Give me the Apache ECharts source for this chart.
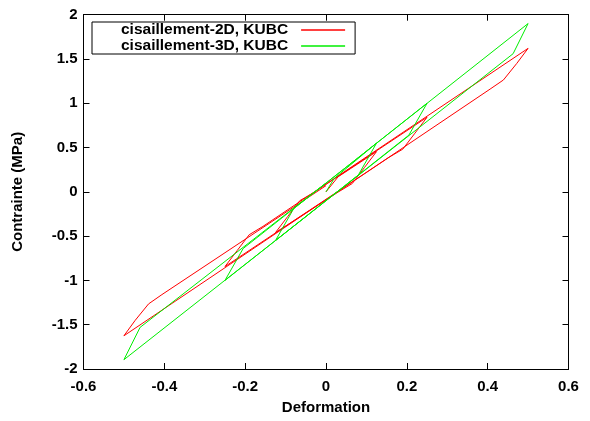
<!DOCTYPE html>
<html>
<head>
<meta charset="utf-8">
<script src="https://cdn.jsdelivr.net/npm/echarts@6/dist/echarts.min.js"></script>
<style>
html,body{margin:0;padding:0;background:#fff;}
#chart{width:590px;height:421px;}
</style>
</head>
<body>
<div id="chart"></div>
<script>
// ---- data ----
var strain2D = [0, 0.03, 0.06, 0.125, 0.095, 0.065, 0.031, -0.125, -0.095, -0.065, -0.031,
  0.25, 0.22, 0.19, 0.156, -0.25, -0.22, -0.19, -0.156,
  0.5, 0.472, 0.439, 0.406, -0.5, -0.472, -0.439, -0.406, 0];
var stress2D = [0, 0.17, 0.26, 0.454, 0.274, 0.094, 0.0, -0.46, -0.28, -0.10, -0.01,
  0.842, 0.662, 0.482, 0.39, -0.844, -0.664, -0.484, -0.39,
  1.62, 1.45, 1.263, 1.16, -1.625, -1.45, -1.265, -1.16, 0.07];
var strain3D = [0, 0.02, 0.125, 0.08, -0.125, -0.08, 0.25, 0.205, -0.25, -0.205,
  0.5, 0.463, -0.5, -0.46, 0];
var stress3D = [0, 0.15, 0.55, 0.19, -0.55, -0.19, 1.0, 0.64, -1.0, -0.64,
  1.9, 1.56, -1.895, -1.53, 0.1];
var seriesNames = ['cisaillement-2D, KUBC', 'cisaillement-3D, KUBC'];
var xTickLabels = ['-0.6', '-0.4', '-0.2', '0', '0.2', '0.4', '0.6'];
var yTickLabels = ['-2', '-1.5', '-1', '-0.5', '0', '0.5', '1', '1.5', '2'];
var xName = 'Deformation';
var yName = 'Contrainte (MPa)';

function zip(a, b) { return a.map(function (v, i) { return [v, b[i]]; }); }
function xLab(v) { return xTickLabels[Math.round((v + 0.6) / 0.2)]; }
function yLab(v) { return yTickLabels[Math.round((v + 2) / 0.5)]; }

var FONT = 'Liberation Sans, Arial, Helvetica, sans-serif';
var lab = { fontFamily: FONT, fontWeight: 'bold', fontSize: 15, color: '#000' };
var RED = '#ff0000', GREEN = '#00ee00';

var chart = echarts.init(document.getElementById('chart'), null, { renderer: 'canvas' });
var axisLine = { show: true, onZero: false, lineStyle: { color: '#000', width: 1 } };
var tick = { show: true, inside: true, length: 6, lineStyle: { color: '#000', width: 1 } };

chart.setOption({
  animation: false,
  backgroundColor: '#fff',
  grid: { left: 83.5, right: 21.5, top: 14.7, bottom: 52, containLabel: false },
  legend: {
    orient: 'vertical', align: 'right',
    left: 92, top: 22,
    padding: [0, 10, 0, 29],
    itemWidth: 44, itemHeight: 1.5, itemGap: 0,
    icon: 'rect',
    borderColor: '#000', borderWidth: 1,
    textStyle: { fontFamily: FONT, fontWeight: 'bold', fontSize: 15.5, lineHeight: 15.3, color: '#000', padding: [0, 8, 0, 0] },
    data: seriesNames
  },
  xAxis: [
    { type: 'value', min: -0.6, max: 0.6, interval: 0.2, position: 'bottom',
      axisLine: axisLine, axisTick: tick, splitLine: { show: false },
      axisLabel: Object.assign({ margin: 10, formatter: xLab }, lab),
      name: xName, nameLocation: 'middle', nameGap: 31, nameTextStyle: lab },
    { type: 'value', min: -0.6, max: 0.6, interval: 0.2, position: 'top',
      axisLine: axisLine, axisTick: tick, splitLine: { show: false },
      axisLabel: { show: false } }
  ],
  yAxis: [
    { type: 'value', min: -2, max: 2, interval: 0.5, position: 'left',
      axisLine: axisLine, axisTick: tick, splitLine: { show: false },
      axisLabel: Object.assign({ margin: 6, formatter: yLab }, lab),
      name: yName, nameLocation: 'middle', nameGap: 58, nameTextStyle: lab },
    { type: 'value', min: -2, max: 2, interval: 0.5, position: 'right',
      axisLine: axisLine, axisTick: tick, splitLine: { show: false },
      axisLabel: { show: false } }
  ],
  series: [
    { name: seriesNames[0], type: 'line', data: zip(strain2D, stress2D),
      symbol: 'none', lineStyle: { color: RED, width: 1 }, itemStyle: { color: RED } },
    { name: seriesNames[1], type: 'line', data: zip(strain3D, stress3D),
      symbol: 'none', lineStyle: { color: GREEN, width: 1 }, itemStyle: { color: GREEN } }
  ]
});
</script>
</body>
</html>
